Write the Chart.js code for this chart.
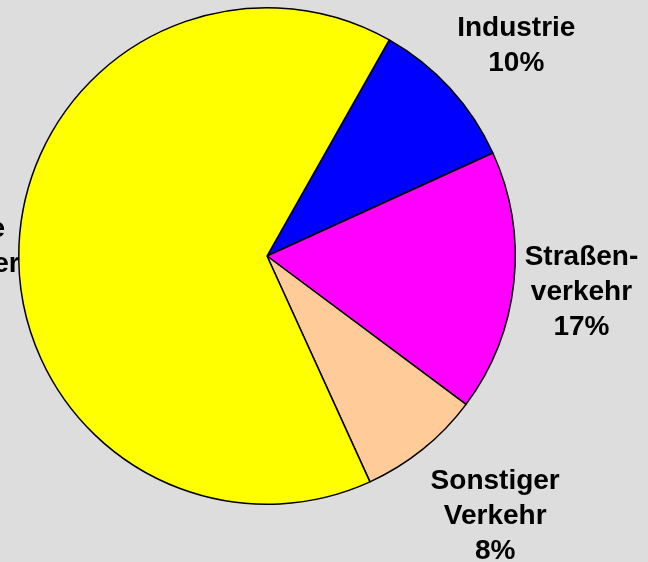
<!DOCTYPE html>
<html>
<head>
<meta charset="utf-8">
<script src="https://cdn.jsdelivr.net/npm/chart.js@4/dist/chart.umd.min.js"></script>
<style>
  body { margin: 0; background: #dddddd; }
  canvas { display: block; }
</style>
</head>
<body>
<canvas id="pieChart" width="648" height="562"></canvas>
<script>
// Daten des Diagramms
const kategorien = [
    ['Industrie'],
    ['Straßen-', 'verkehr'],
    ['Sonstiger', 'Verkehr'],
    ['Private', 'Haushalte', 'Verbraucher']
];
const anteile = [10, 17, 8, 65];
const farben = ['#0000ff', '#ff00ff', '#ffcc99', '#ffff00'];

// Lage der Beschriftungen: Abstand vom Kreisrand und kleine Verschiebung (px)
const labelAbstand = [79, 68, 96, 78];
const labelVersatz = [[8, 9], [0, 0], [12, -10], [-3, 3]];

// Plugin: Beschriftungen außerhalb des Kreises zeichnen
const aussenLabels = {
    id: 'aussenLabels',
    afterDatasetsDraw(chart) {
        const ctx = chart.ctx;
        const meta = chart.getDatasetMeta(0);
        ctx.save();
        ctx.fillStyle = '#000000';
        ctx.font = 'bold 28px "Liberation Sans", Arial, sans-serif';
        ctx.textAlign = 'center';
        ctx.textBaseline = 'alphabetic';
        const zeilenHoehe = 35;
        meta.data.forEach((arc, i) => {
            const p = arc.getProps(['x', 'y', 'startAngle', 'endAngle', 'outerRadius'], true);
            const mitte = (p.startAngle + p.endAngle) / 2;
            const r = p.outerRadius + labelAbstand[i];
            const cx = p.x + Math.cos(mitte) * r + labelVersatz[i][0];
            const cy = p.y + Math.sin(mitte) * r + labelVersatz[i][1];
            const zeilen = kategorien[i].concat([anteile[i] + '%']);
            // erste Grundlinie so, dass der Block um cy zentriert ist
            const startY = cy + 10 - (zeilen.length - 1) * zeilenHoehe / 2;
            zeilen.forEach((z, k) => {
                ctx.fillText(z, cx, startY + k * zeilenHoehe);
            });
        });
        ctx.restore();
    }
};

new Chart(document.getElementById('pieChart'), {
    type: 'pie',
    data: {
        labels: kategorien.map(k => k.join(' ')),
        datasets: [{
            data: anteile,
            backgroundColor: farben,
            borderColor: '#000000',
            borderWidth: 1.5
        }]
    },
    options: {
        responsive: false,
        animation: false,
        rotation: 29.5,
        layout: {
            padding: { left: 18, right: 132, top: 7, bottom: 57 }
        },
        plugins: {
            legend: { display: false },
            tooltip: { enabled: false }
        }
    },
    plugins: [aussenLabels]
});
</script>
</body>
</html>
